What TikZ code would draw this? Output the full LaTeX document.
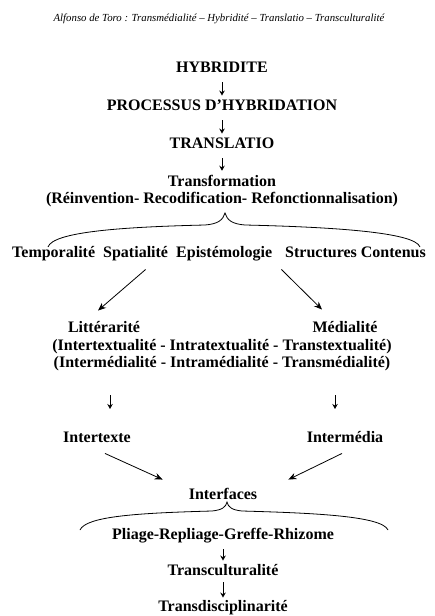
\documentclass[tikz,border=0pt]{standalone}
\usepackage{fontspec}
\setmainfont{Liberation Serif}
\usetikzlibrary{arrows.meta}
\tikzset{
  titre/.style={font=\bfseries\fontsize{16}{17.5}\selectfont, inner sep=0pt, align=center},
  ligne/.style={titre, text height=11pt, text depth=3.5pt},
  fleche/.style={-{Stealth[length=5pt,width=5.5pt]}, line width=0.9pt, shorten <=6pt, shorten >=4pt},
  diag/.style={-{Stealth[length=8pt,width=6.5pt]}, line width=0.8pt},
  accolade/.style={line width=0.8pt}
}
\begin{document}
\begin{tikzpicture}[x=1pt,y=-1pt]
  \useasboundingbox (0,0) rectangle (434,616);

  % En-tete
  \node[font=\itshape\fontsize{10.8}{12}\selectfont] (entete) at (219,19)
    {Alfonso de Toro : Transmédialité – Hybridité – Translatio – Transculturalité};

  % Chaine du haut
  \node[ligne] (hyb) at (222,69) {HYBRIDITE};
  \node[ligne] (proc) at (222,107) {PROCESSUS D’HYBRIDATION};
  \node[ligne] (transl) at (222,145) {TRANSLATIO};
  \node[titre] (transf) at (222,191) {Transformation\\(Réinvention- Recodification- Refonctionnalisation)};
  \draw[fleche] (hyb) -- (proc);
  \draw[fleche] (proc) -- (transl);
  \draw[fleche] (transl) -- (transf);

  % Accolade 1
  \draw[accolade] (48,247) .. controls (53,232) and (120,227) .. (205,225)
    .. controls (218,224) and (223,220) .. (225,213)
    .. controls (227,220) and (232,224) .. (245,225)
    .. controls (330,227) and (415,232) .. (420,247);

  % Rangee
  \node[ligne, anchor=west] (temp) at (12,254) {Temporalité};
  \node[ligne, anchor=west] (spat) at (103,254) {Spatialité};
  \node[ligne, anchor=west] (epi) at (176,254) {Epistémologie};
  \node[ligne, anchor=west] (struct) at (285,254) {Structures Contenus};

  % Litterarite / Medialite
  \node[ligne] (litt) at (104,329) {Littérarité};
  \node[ligne] (med) at (345,329) {Médialité};
  \node[titre] (paren) at (222,355) {(Intertextualité - Intratextualité - Transtextualité)\\(Intermédialité - Intramédialité - Transmédialité)};
  \draw[diag] ([shift={(10pt,-8pt)}]spat.south) -- ([shift={(-6pt,11pt)}]litt.north);
  \draw[diag] ([shift={(9pt,-8pt)}]epi.south east) -- ([shift={(-23pt,12pt)}]med.north);

  % Fleches seules
  \coordinate (fg) at (110,395);
  \coordinate (fd) at (335,395);
  \draw[fleche, shorten <=0pt, shorten >=0pt] (fg) -- ++(0,14);
  \draw[fleche, shorten <=0pt, shorten >=0pt] (fd) -- ++(0,14);

  % Intertexte / Intermedia
  \node[ligne] (itx) at (97,439) {Intertexte};
  \node[ligne] (imd) at (345,439) {Intermédia};
  \node[ligne] (ifc) at (223,496) {Interfaces};
  \draw[diag] ([shift={(8pt,-7pt)}]itx.south) -- ([shift={(-26pt,9pt)}]ifc.north west);
  \draw[diag] ([shift={(-3pt,-7pt)}]imd.south) -- ([shift={(31pt,9pt)}]ifc.north east);

  % Accolade 2
  \draw[accolade] (80,530) .. controls (86,516) and (140,513) .. (212,511)
    .. controls (222,510) and (226,507) .. (227,502)
    .. controls (228,507) and (232,510) .. (242,511)
    .. controls (314,513) and (382,516) .. (388,530);

  % Chaine du bas
  \node[ligne] (pli) at (223,536) {Pliage-Repliage-Greffe-Rhizome};
  \node[ligne] (tcult) at (223,572) {Transculturalité};
  \node[ligne] (tdisc) at (223,608) {Transdisciplinarité};
  \draw[fleche] (pli) -- (tcult);
  \draw[fleche, shorten <=3pt, shorten >=3pt] (tcult) -- (tdisc);
\end{tikzpicture}
\end{document}
